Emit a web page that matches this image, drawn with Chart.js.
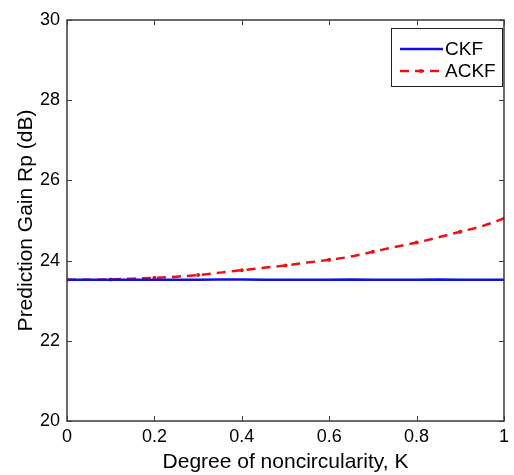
<!DOCTYPE html>
<html>
<head>
<meta charset="utf-8">
<script src="https://cdn.jsdelivr.net/npm/chart.js@4.4.1/dist/chart.umd.min.js"></script>
<style>
html,body{margin:0;padding:0;background:#fff;}
#wrap{width:514px;height:475px;position:relative;}
</style>
</head>
<body>
<div id="wrap"><canvas id="c" width="514" height="475"></canvas></div>
<script>
const kValues = [0,0.05,0.1,0.15,0.2,0.25,0.3,0.35,0.4,0.45,0.5,0.55,0.6,0.65,0.7,0.75,0.8,0.85,0.9,0.95,1.0];
const ckf  = [23.52,23.52,23.52,23.52,23.52,23.52,23.52,23.53,23.53,23.52,23.52,23.52,23.52,23.53,23.52,23.52,23.52,23.53,23.52,23.52,23.52];
const ackf = [23.52,23.52,23.53,23.55,23.57,23.60,23.64,23.70,23.76,23.82,23.88,23.95,24.02,24.10,24.22,24.34,24.45,24.58,24.72,24.86,25.05];
const xTicks = [0,0.2,0.4,0.6,0.8,1];
const yTicks = [20,22,24,26,28,30];
const seriesNames = ['CKF','ACKF'];
const xTitle = 'Degree of noncircularity, K';
const yTitle = 'Prediction Gain Rp (dB)';

const FONT = "'Liberation Sans', Arial, sans-serif";
const frameColor = '#3a3a3a';

const framePlugin = {
  id: 'frame',
  afterDatasetsDraw(chart) {
    const {ctx, chartArea: a, scales: {x, y}} = chart;
    ctx.save();
    ctx.strokeStyle = frameColor;
    ctx.lineWidth = 1.5;
    ctx.strokeRect(a.left, a.top, a.right - a.left, a.bottom - a.top);
    ctx.lineWidth = 1;
    const L = 5;
    xTicks.forEach(v => {
      const px = Math.round(x.getPixelForValue(v)) + 0.5;
      ctx.beginPath();
      ctx.moveTo(px, a.bottom); ctx.lineTo(px, a.bottom - L);
      ctx.moveTo(px, a.top); ctx.lineTo(px, a.top + L);
      ctx.stroke();
    });
    yTicks.forEach(v => {
      const py = Math.round(y.getPixelForValue(v)) + 0.5;
      ctx.beginPath();
      ctx.moveTo(a.left, py); ctx.lineTo(a.left + L, py);
      ctx.moveTo(a.right, py); ctx.lineTo(a.right - L, py);
      ctx.stroke();
    });
    // legend
    const bx = 391, by = 28, bw = 111, bh = 58;
    ctx.fillStyle = '#fff';
    ctx.fillRect(bx, by, bw, bh);
    ctx.strokeStyle = '#222';
    ctx.lineWidth = 1;
    ctx.strokeRect(bx + 0.5, by + 0.5, bw, bh);
    const ds = chart.data.datasets;
    const rows = [49, 71];
    ds.forEach((d, i) => {
      const yy = by + (rows[i] - 28);
      ctx.strokeStyle = d.borderColor;
      ctx.lineWidth = d.borderWidth;
      ctx.setLineDash(d.borderDash || []);
      ctx.beginPath();
      ctx.moveTo(bx + 9, yy); ctx.lineTo(bx + 52, yy);
      ctx.stroke();
      ctx.setLineDash([]);
      if (i === 1) {
        ctx.fillStyle = d.borderColor;
        ctx.beginPath(); ctx.arc(bx + 30, yy, 2, 0, Math.PI * 2); ctx.fill();
      }
      ctx.fillStyle = '#000';
      ctx.font = '19px ' + FONT;
      ctx.textBaseline = 'middle';
      ctx.textAlign = 'left';
      ctx.fillText(d.label, bx + 54, yy + 1);
    });
    ctx.restore();
  }
};

new Chart(document.getElementById('c'), {
  type: 'line',
  data: {
    labels: kValues,
    datasets: [
      {
        label: seriesNames[0],
        data: kValues.map((k, i) => ({x: k, y: ckf[i]})),
        borderColor: '#1010e0',
        borderWidth: 2.5,
        pointRadius: 0,
        tension: 0
      },
      {
        label: seriesNames[1],
        data: kValues.map((k, i) => ({x: k, y: ackf[i]})),
        borderColor: '#ee1111',
        backgroundColor: '#ee1111',
        borderWidth: 2.5,
        borderDash: [9, 6],
        pointRadius: ctx => (ctx.dataIndex % 2 === 0 ? 2 : 0),
        pointBorderWidth: 0,
        cubicInterpolationMode: 'monotone'
      }
    ]
  },
  options: {
    responsive: false,
    animation: false,
    events: [],
    layout: {padding: {left: 0, right: 6, top: 20, bottom: 0}},
    plugins: {legend: {display: false}, tooltip: {enabled: false}},
    scales: {
      x: {
        type: 'linear', min: 0, max: 1,
        afterBuildTicks: s => { s.ticks = xTicks.map(v => ({value: v})); },
        afterFit: s => { s.height = 54; },
        grid: {display: false, drawTicks: false},
        border: {display: false},
        ticks: {
          color: '#000', font: {family: FONT, size: 18}, padding: 5,
          maxRotation: 0, autoSkip: false,
          callback: v => String(v)
        },
        title: {display: true, text: xTitle, color: '#000', font: {family: FONT, size: 21}, padding: {top: 0, bottom: 0}}
      },
      y: {
        type: 'linear', min: 20, max: 30,
        afterBuildTicks: s => { s.ticks = yTicks.map(v => ({value: v})); },
        afterFit: s => { s.width = 67; },
        grid: {display: false, drawTicks: false},
        border: {display: false},
        ticks: {
          color: '#000', font: {family: FONT, size: 18}, padding: 7,
          callback: v => String(v)
        },
        title: {display: true, text: yTitle, color: '#000', font: {family: FONT, size: 21}, padding: {top: 14, bottom: 0}}
      }
    }
  },
  plugins: [framePlugin]
});
</script>
</body>
</html>
